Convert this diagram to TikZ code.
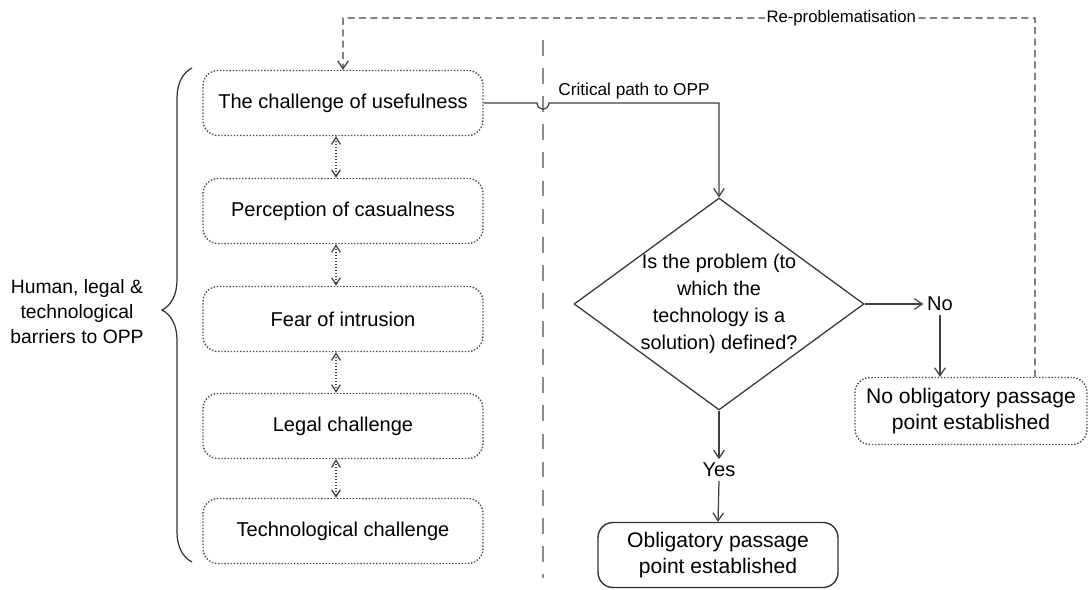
\documentclass[tikz,border=0pt]{standalone}
\usepackage{fontspec}
\setmainfont{Liberation Sans}
\usetikzlibrary{shapes.geometric,arrows.meta,decorations.pathreplacing}
\begin{document}
\begin{tikzpicture}[x=0.02cm,y=-0.02cm,
    barrier/.style={draw=black!70,densely dotted,line width=0.8pt,rounded corners=0.3cm,
        minimum width=5.6cm,minimum height=1.3cm,font=\fontsize{11.4}{14}\selectfont},
    outcome/.style={rounded corners=0.3cm,align=center,font=\fontsize{12}{15}\selectfont},
    word/.style={inner sep=2pt,font=\fontsize{11.4}{14}\selectfont},
    flow/.style={draw=black!75,line width=0.7pt,-{Straight Barb[length=4.5pt,width=6pt]}},
    link/.style={draw=black!75,densely dotted,line width=0.7pt,
        {Straight Barb[length=4pt,width=5pt]}-{Straight Barb[length=4pt,width=5pt]}},
    reprob/.style={draw=black!75,line width=0.7pt,dash pattern=on 4pt off 2.5pt,
        -{Straight Barb[length=4.5pt,width=6pt]}}]
\useasboundingbox[fill=white] (0,0) rectangle (1091,590);

% separator
\draw[black!45,line width=1.2pt,dash pattern=on 9pt off 7pt] (543,40) -- (543,578);

% barriers
\node[barrier] (b1) at (343,103) {The challenge of usefulness};
\node[barrier] (b2) at (343,211) {Perception of casualness};
\node[barrier] (b3) at (343,319) {Fear of intrusion};
\node[barrier] (b4) at (343,426) {Legal challenge};
\node[barrier] (b5) at (343,531) {Technological challenge};
\draw[link] ([xshift=-0.14cm]b1.south) -- ([xshift=-0.14cm]b2.north);
\draw[link] ([xshift=-0.14cm]b2.south) -- ([xshift=-0.14cm]b3.north);
\draw[link] ([xshift=-0.14cm]b3.south) -- ([xshift=-0.14cm]b4.north);
\draw[link] ([xshift=-0.14cm]b4.south) -- ([xshift=-0.14cm]b5.north);

% brace
\coordinate (bracebot) at (192,562);
\coordinate (bracetop) at (192,68);
\draw[black!80,line width=0.7pt,decorate,decoration={brace,amplitude=0.6cm,aspect=0.51}]
    (bracebot) -- (bracetop);
\node[align=center,font=\fontsize{11}{14.2}\selectfont] (human) at (77,312)
    {Human, legal \&\\technological\\barriers to OPP};

% decision
\node[draw=black!80,line width=0.7pt,diamond,inner sep=0pt,minimum width=5.8cm,
    minimum height=4.24cm,
    label={[align=center,font=\fontsize{11.3}{15.3}\selectfont]center:
    Is the problem (to\\which the\\technology is a\\solution) defined?}]
    (q) at (719,304) {};
\draw[flow] (b1.east) -- (537,103) arc[start angle=180,end angle=360,radius=0.12cm]
    -- node[above,inner sep=2pt,font=\fontsize{9.8}{12}\selectfont] {Critical path to OPP}
    (q.north |- b1.east) -- (q.north);

\node[word] (no) at (940,304) {No};
\node[word] (yes) at (719,470) {Yes};
\node[outcome,draw=black!70,densely dotted,line width=0.8pt,minimum width=4.64cm,
    minimum height=1.34cm] (nob) at (971,411) {No obligatory passage\\point established};
\node[outcome,draw=black!80,line width=0.8pt,minimum width=4.8cm,minimum height=1.3cm]
    (opp) at (718,555) {Obligatory passage\\point established};
\draw[flow] (q.east) -- (q.east -| no.west);
\draw[flow] (no.south) -- (no.south |- nob.north);
\draw[flow] (q.south) -- (yes.north);
\draw[flow] (yes.south) -- (opp.north);

% loop back
\coordinate (turn) at (1035,18);
\draw[reprob] ([xshift=1.28cm]nob.north) -- (turn)
    -- node[pos=0.28,fill=white,inner sep=1pt,font=\fontsize{9.5}{12}\selectfont]
    {Re-problematisation} (b1.north |- turn) -- (b1.north);
\end{tikzpicture}
\end{document}
